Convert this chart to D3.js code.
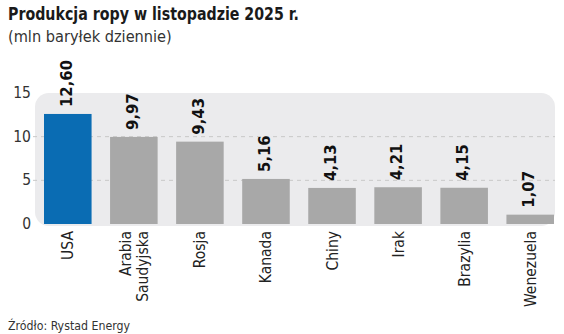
<!DOCTYPE html>
<html><head><meta charset="utf-8">
<script src="https://cdn.jsdelivr.net/npm/d3@7"></script>
<style>
body{margin:0;background:#fff;}
svg{display:block;}
</style></head>
<body>
<svg id="chart" width="564" height="334"></svg>
<script>
const categories = ["USA", "Arabia Saudyjska", "Rosja", "Kanada", "Chiny", "Irak", "Brazylia", "Wenezuela"];
const values = [12.60, 9.97, 9.43, 5.16, 4.13, 4.21, 4.15, 1.07];
const valueLabels = ["12,60", "9,97", "9,43", "5,16", "4,13", "4,21", "4,15", "1,07"];
const yTicks = [0, 5, 10, 15];
const gridValues = [5, 10];
const title = "Produkcja ropy w listopadzie 2025 r.";
const subtitle = "(mln baryłek dziennie)";
const source = "Źródło: Rystad Energy";

const narrow = "'Liberation Sans Narrow','DejaVu Sans Condensed','Arial Narrow',sans-serif";
const cond = "'DejaVu Sans Condensed','DejaVu Sans',sans-serif";

const svg = d3.select("#chart");
const x = d3.scaleBand().domain(categories).range([44, 554]).paddingInner(0.28).paddingOuter(0);
const y = d3.scaleLinear().domain([0, 15]).range([224, 93]);

function fit(sel, w){
  const n = sel.node();
  const fs = parseFloat(sel.attr("font-size"));
  const len = n.getComputedTextLength();
  if(len>0) sel.attr("font-size", (fs*w/len).toFixed(2));
}

// title
svg.append("text").attr("x", 8).attr("y", 20).attr("font-family", cond)
  .attr("font-weight", "bold").attr("font-size", 17.5).attr("fill", "#1a1a1a")
  .attr("textLength", 291).attr("lengthAdjust", "spacingAndGlyphs").text(title);
const st = svg.append("text").attr("x", 8).attr("y", 42).attr("font-family", narrow)
  .attr("font-size", 17).attr("fill", "#333").text(subtitle);
fit(st, 164);

// background
svg.append("rect").attr("x", 35).attr("y", y(15)).attr("width", 520).attr("height", y(0) - y(15) + 2)
  .attr("rx", 14).attr("fill", "#ebebed");

// grid
svg.append("g").selectAll("line").data(gridValues).join("line")
  .attr("x1", 33).attr("x2", 555).attr("y1", d => y(d)).attr("y2", d => y(d))
  .attr("stroke", "#c8c8c8").attr("stroke-width", 1).attr("stroke-dasharray", "4,4");

// y axis
const ya = svg.append("g").attr("transform", "translate(31,0)")
  .call(d3.axisLeft(y).tickValues(yTicks).tickSize(0).tickPadding(0).tickFormat(d3.format("d")));
ya.select(".domain").remove();
ya.selectAll("text").attr("font-family", narrow).attr("font-size", 15.5).attr("fill", "#333").attr("dy", "0.3em");

// bars
svg.append("g").selectAll("rect").data(values).join("rect")
  .attr("x", (d, i) => x(categories[i])).attr("width", x.bandwidth())
  .attr("y", d => y(d)).attr("height", d => y(0) - y(d))
  .attr("fill", (d, i) => i === 0 ? "#0a6cb3" : "#a8a8a8");

// value labels
svg.append("g").selectAll("text").data(values).join("text")
  .attr("transform", (d, i) => `translate(${x(categories[i]) + x.bandwidth()/2 + 4},${y(d) - 7}) rotate(-90)`)
  .attr("font-family", cond).attr("font-weight", "bold").attr("font-size", 16.5).attr("fill", "#111")
  .text((d, i) => valueLabels[i]);

// category labels
const cl = svg.append("g").selectAll("text").data(categories).join("text")
  .attr("font-family", narrow).attr("font-size", 15.5).attr("fill", "#222")
  .attr("text-anchor", "end");
cl.each(function(c){
  const el = d3.select(this);
  const cx = x(c) + x.bandwidth()/2;
  const words = c.split(" ");
  const lh = 17;
  const off = -(words.length - 1) * lh / 2;
  el.attr("transform", `translate(${cx + off + 5.5},231) rotate(-90)`);
  words.forEach((w, k) => {
    el.append("tspan").attr("x", 0).attr("y", k * lh).text(w);
  });
});

// source
const so = svg.append("text").attr("x", 8).attr("y", 330).attr("font-family", narrow)
  .attr("font-size", 15).attr("fill", "#333").text(source);
fit(so, 122);
</script>
</body></html>
